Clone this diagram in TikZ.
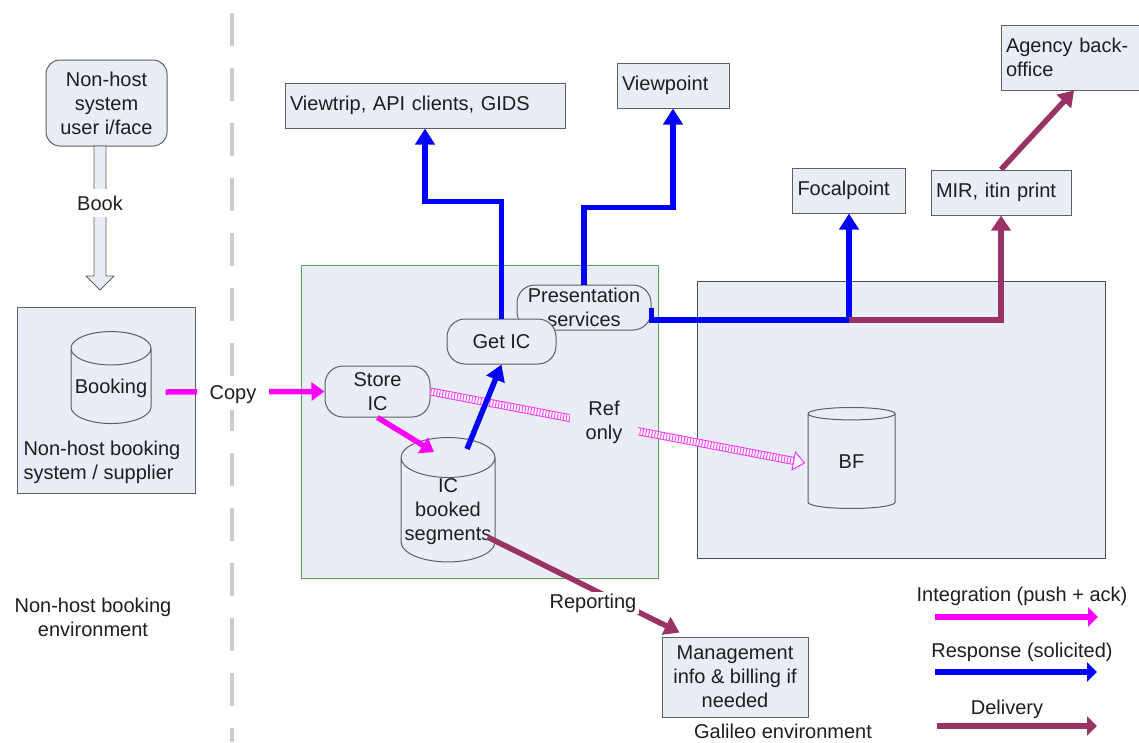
\documentclass[tikz,border=0pt]{standalone}
\usepackage{fontspec}
\setmainfont{Liberation Sans}
\usetikzlibrary{positioning,arrows.meta,shapes.geometric,calc}

\definecolor{boxfill}{RGB}{233,237,246}
\definecolor{boxline}{RGB}{95,95,95}
\definecolor{greenline}{RGB}{80,170,80}
\definecolor{intcol}{RGB}{255,0,255}
\definecolor{respcol}{RGB}{0,0,255}
\definecolor{delcol}{RGB}{153,51,102}
\definecolor{dashgray}{RGB}{205,205,205}
\definecolor{textcol}{RGB}{30,30,30}

\tikzset{
  sysbox/.style={draw=boxline, fill=boxfill, line width=1pt, inner sep=0pt},
  leftbox/.style={sysbox, align=left, inner xsep=5pt},
  procbox/.style={sysbox, rounded corners=18pt, align=center},
  dbcyl/.style={cylinder, shape border rotate=90, aspect=0.45, draw=boxline,
    fill=boxfill, line width=1pt, inner sep=1pt, align=center},
  region/.style={sysbox},
  integ/.style={draw=intcol, line width=5.5pt, -{Triangle[length=13pt,width=18pt]}},
  resp/.style={draw=respcol, line width=5.5pt, -{Triangle[length=16pt,width=19pt]}},
  deliv/.style={draw=delcol, line width=5.5pt, -{Triangle[length=15pt,width=19pt]}},
  refline/.style={draw=intcol!80, line width=8pt,
    postaction={draw=white, line width=6pt},
    postaction={draw=intcol!70, line width=6pt, dash pattern=on 1pt off 2pt}},
  gap/.style={fill=white, inner sep=2pt}
}

\begin{document}
\begin{tikzpicture}[x=1pt, y=-1pt, font=\fontsize{20}{24}\selectfont, text=textcol]
  \useasboundingbox (0,0) rectangle (1139,742);

  % Divider between the two environments
  \draw[dashgray, line width=4pt, dash pattern=on 33pt off 22pt] (232,13) -- (232,742);

  % Regions
  \node[region, minimum width=178pt, minimum height=186pt] (nonhost) at (106,400) {};
  \node[region, draw=greenline, minimum width=357pt, minimum height=313pt] (galbox) at (479.5,421.5) {};
  \node[region, draw=black!70, minimum width=408pt, minimum height=277pt] (corebox) at (901,419.5) {};

  % Non-host side
  \node[procbox, rounded corners=14pt, minimum width=121pt, minimum height=86pt] (ui) at (106.5,103)
    {Non-host\\system\\user i/face};
  \node[dbcyl, minimum width=80pt, minimum height=92pt] (booking) at (111,388) {Booking};
  \node[anchor=west, align=left] (nonhostlbl) at (20,462) {Non-host booking\\system / supplier};
  \node[align=center] (nonhostenv) at (93,617) {Non-host booking\\environment};

  % Galileo side
  \node[procbox, inner sep=0pt, minimum width=134pt, minimum height=45pt] (pres) at (584,307.5)
    {Presentation\\services};
  \node[procbox, minimum width=109pt, minimum height=45pt] (getic) at (501.5,341.5) {Get IC};
  \node[procbox, minimum width=105pt, minimum height=51pt] (storeic) at (377.5,391.5) {Store\\IC};
  \node[dbcyl, minimum width=94pt, minimum height=103pt] (iccyl) at (448,512)
    {IC\\booked\\segments};
  \node[dbcyl, minimum width=87pt, minimum height=101pt] (bf) at (851.5,462) {BF};

  % Outlets
  \node[leftbox, text width=270pt, minimum height=45pt] (viewtrip) at (425,105.5)
    {Viewtrip, API clients, GIDS};
  \node[leftbox, text width=102pt, minimum height=45pt] (viewpoint) at (673,85.5) {Viewpoint};
  \node[leftbox, text width=103pt, minimum height=45pt] (focal) at (849,190.5) {Focalpoint};
  \node[leftbox, text width=130pt, minimum height=45pt] (mir) at (1001,192.5) {MIR, itin print};
  \node[leftbox, text width=128pt, minimum height=65pt] (agency) at (1070,57.5)
    {Agency back-\\office};
  \node[sysbox, align=center, minimum width=146pt, minimum height=80pt] (mgmt) at (735,677)
    {Management\\info \& billing if\\needed};
  \node (galenv) at (783,731) {Galileo environment};

  % Book (hollow arrow)
  \draw[boxline, fill=boxfill, line width=0.8pt]
    (94,146) -- (106,146) -- (106,276) -- (114,276) -- (100,290) -- (86,276) -- (94,276) -- cycle;
  \node[gap, inner ysep=7pt] (book) at (100,203) {Book};

  % Integration
  \draw[integ] ($(booking.east)+(14,4)$) -- (storeic.west);
  \node[gap, inner xsep=13pt, inner ysep=6pt] (copy) at (233,395) {Copy};
  \draw[integ] (storeic.south) -- ($(iccyl.north)+(-14,15)$);

  % Ref only (hatched)
  \coordinate (reftip) at ($(bf.west)+(-3,1)$);
  \coordinate (refbase) at ($(reftip)!11pt!(storeic.east)$);
  \draw[refline] (storeic.east) -- (refbase);
  \draw[intcol!80, fill=white, line width=1pt] (reftip) -- ($(refbase)!9pt!90:(reftip)$)
    -- ($(refbase)!9pt!-90:(reftip)$) -- cycle;
  \node[fill=boxfill, inner xsep=16pt, inner ysep=3pt, align=center] (refonly) at (604,422) {Ref\\only};

  % Responses
  \draw[resp] ($(iccyl.north)+(19,12)$) -- (getic.south);
  \draw[resp] (getic.north) -- ++(0,-117) -| (viewtrip.south);
  \draw[resp] (pres.north) -- ++(0,-77) -| (viewpoint.south);
  \coordinate (split) at (849,320);
  \draw[resp] (pres.east) |- (split) -- (focal.south);

  % Deliveries
  \draw[deliv] (split) -| (mir.south);
  \draw[deliv] (mir.north) -- ($(agency.south)+(4,0)$);
  \draw[deliv] ($(iccyl.east)+(-8,25)$) -- ($(mgmt.north west)+(18,-4)$);
  \node[gap, inner xsep=3pt] (reporting) at (593,603) {Reporting};

  % Legend
  \coordinate (lgia) at (935,617);  \coordinate (lgib) at (1098,617);
  \coordinate (lgra) at (935,672);  \coordinate (lgrb) at (1097,672);
  \coordinate (lgda) at (937,726);  \coordinate (lgdb) at (1097,726);
  \draw[integ, line width=6.5pt, -{Triangle[length=10pt,width=19pt]}] (lgia) -- (lgib);
  \draw[resp, line width=6.5pt, -{Triangle[length=10pt,width=19pt]}] (lgra) -- (lgrb);
  \draw[deliv, line width=6.5pt, -{Triangle[length=10pt,width=19pt]}] (lgda) -- (lgdb);
  \node (lgint) at (1022,596) {Integration (push + ack)};
  \node (lgresp) at (1022,652) {Response (solicited)};
  \node (lgdel) at (1007,709) {Delivery};
\end{tikzpicture}
\end{document}
